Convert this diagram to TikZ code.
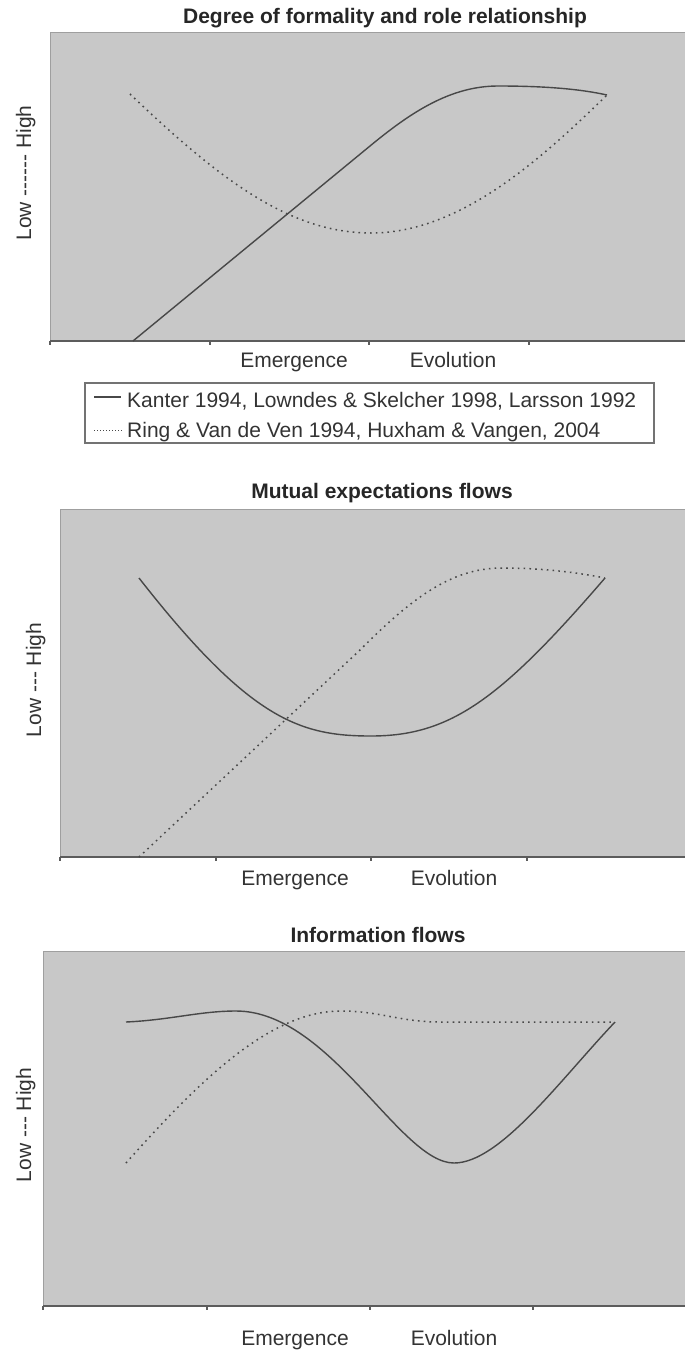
\documentclass[tikz,border=0pt]{standalone}
\usepackage{fontspec}
\setmainfont{Liberation Sans}
\usetikzlibrary{positioning}
\definecolor{plotbg}{HTML}{C8C8C8}
\definecolor{curvegray}{HTML}{484848}
\definecolor{axisgray}{HTML}{5C5C5C}
\definecolor{labelgray}{HTML}{333333}

\begin{document}
\begin{tikzpicture}[x=1pt, y=-1pt,
    plotarea/.style={fill=plotbg, draw=gray!75, line width=0.8},
    axisline/.style={draw=axisgray, line width=1.3},
    solidcurve/.style={draw=curvegray, line width=1.4},
    dottedcurve/.style={draw=curvegray, line width=1.5, dash pattern=on 1.6pt off 4.2pt},
    charttitle/.style={font=\fontsize{21}{25}\selectfont\bfseries, text=black!85, inner sep=0, anchor=base},
    axislabel/.style={font=\fontsize{21}{25}\selectfont, text=labelgray, inner sep=0, anchor=base},
    legendtext/.style={font=\fontsize{21}{25}\selectfont, text=labelgray, inner sep=0, anchor=base west}]
  \useasboundingbox (0,0) rectangle (685,1352);

  % --- degree of formality ---
  \fill[plotarea] (50,32) rectangle (690,341);
  \draw[axisline] (50,341) -- (685,341);
  \foreach \x in {50,210,369,529}
    \draw[axisline] (\x,341) -- ++(0,4);
  \node[charttitle] (title1) at (385,23) {Degree of formality and role relationship};
  \node[axislabel, rotate=90] (ylab1) at (31,173) {Low -{}-{}-{}-{}-{}- High};
  \node[axislabel] (emerg1) at (294,367) {Emergence};
  \node[axislabel] (evol1) at (453,367) {Evolution};
  \draw[solidcurve] (133,341) -- (370,146)
    .. controls (410,113) and (450,86) .. (498,86)
    .. controls (545,86) and (580,89) .. (607,95);
  \draw[dottedcurve] (130,94) .. controls (220,180) and (290,233) .. (371,233)
    .. controls (460,233) and (540,160) .. (607,95);

  % legend
  \draw[draw=gray!90!black, line width=1.3] (85,383) rectangle (654,443);
  \node[legendtext] (kanter) at (127,407) {Kanter 1994, Lowndes \& Skelcher 1998, Larsson 1992};
  \node[legendtext] (ring) at (127,437) {Ring \& Van de Ven 1994, Huxham \& Vangen, 2004};
  \coordinate (kanter-key) at (94,397);
  \coordinate (ring-key) at (94,430);
  \draw[solidcurve, line width=1.1, shorten >=6pt] (kanter-key) -- (kanter.west |- kanter-key);
  \draw[dottedcurve, line width=0.9, dash pattern=on 1pt off 2pt, shorten >=5pt] (ring-key) -- (ring.west |- ring-key);

  % --- mutual expectations ---
  \fill[plotarea] (60,509) rectangle (690,857);
  \draw[axisline] (60,857) -- (685,857);
  \foreach \x in {60,216,371,527}
    \draw[axisline] (\x,857) -- ++(0,4);
  \node[charttitle] (title2) at (382,498) {Mutual expectations flows};
  \node[axislabel, rotate=90] (ylab2) at (41,680) {Low -{}-{}- High};
  \node[axislabel] (emerg2) at (295,885) {Emergence};
  \node[axislabel] (evol2) at (454,885) {Evolution};
  \draw[solidcurve] (139,578) .. controls (250,720) and (300,736) .. (371,736)
    .. controls (450,736) and (500,700) .. (605,578);
  \draw[dottedcurve] (139,857) -- (360,650)
    .. controls (410,600) and (450,568) .. (502,568)
    .. controls (540,568) and (575,572) .. (605,578);

  % --- information flows ---
  \fill[plotarea] (43,951) rectangle (690,1306);
  \draw[axisline] (43,1306) -- (685,1306);
  \foreach \x in {43,207,370,533}
    \draw[axisline] (\x,1306) -- ++(0,4);
  \node[charttitle] (title3) at (378,942) {Information flows};
  \node[axislabel, rotate=90] (ylab3) at (31,1125) {Low -{}-{}- High};
  \node[axislabel] (emerg3) at (295,1345) {Emergence};
  \node[axislabel] (evol3) at (454,1345) {Evolution};
  \draw[solidcurve] (126,1022) .. controls (170,1020) and (200,1011) .. (236,1011)
    .. controls (330,1011) and (400,1163) .. (454,1163)
    .. controls (500,1163) and (560,1080) .. (615,1022);
  \draw[dottedcurve] (126,1163) .. controls (200,1080) and (270,1011) .. (341,1011)
    .. controls (380,1011) and (400,1022) .. (440,1022) -- (615,1022);
\end{tikzpicture}
\end{document}
